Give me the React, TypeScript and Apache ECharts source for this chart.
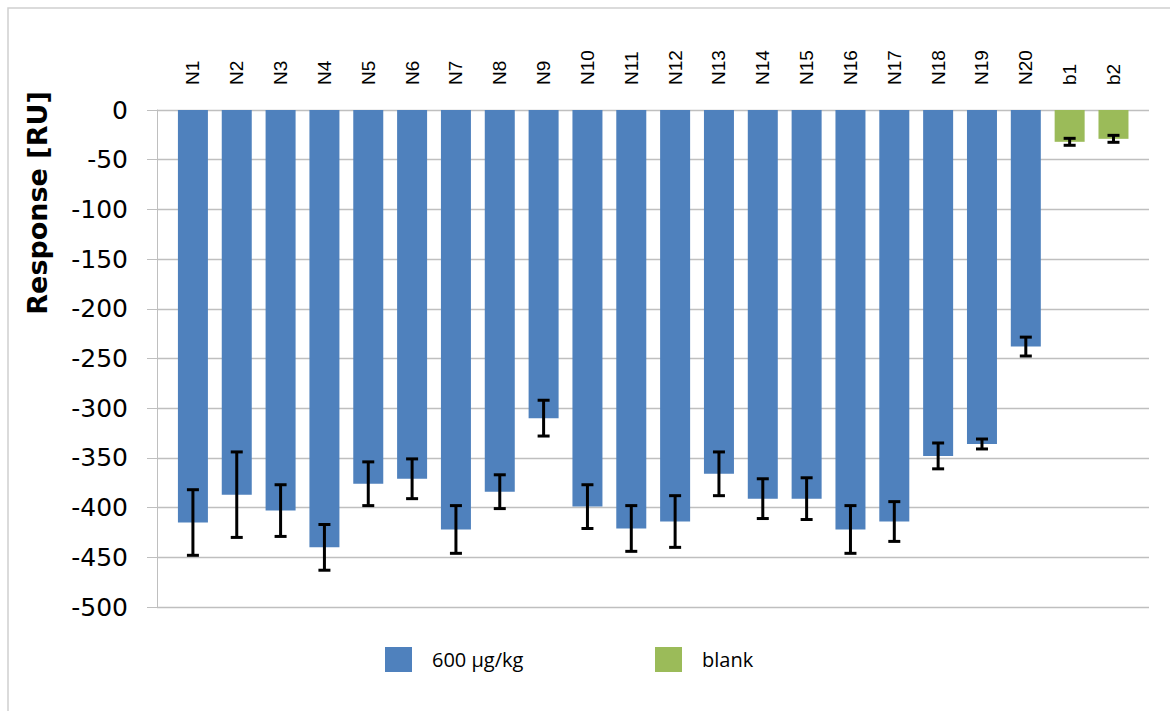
import React, { useEffect, useRef } from 'react';
import * as echarts from 'echarts';

const categories = ['N1', 'N2', 'N3', 'N4', 'N5', 'N6', 'N7', 'N8', 'N9', 'N10', 'N11', 'N12', 'N13', 'N14', 'N15', 'N16', 'N17', 'N18', 'N19', 'N20', 'b1', 'b2'];
const sampleValues = [-415, -387, -403, -440, -376, -371, -422, -384, -310, -399, -421, -414, -366, -391, -391, -422, -414, -348, -336, -238];
const sampleErrors = [33, 43, 26, 23, 22, 20, 24, 17, 18, 22, 23, 26, 22, 20, 21, 24, 20, 13, 5, 9.5];
const blankValues = [-32, -29];
const blankErrors = [3.5, 3.5];
const sampleName = '600 µg/kg';
const blankName = 'blank';
const yMin = -500;
const yMax = 0;
const yStep = 50;

export default function App() {
  const ref = useRef<HTMLDivElement>(null);
  useEffect(() => {
    const chart = echarts.init(ref.current!, undefined, { renderer: 'svg' });
    const n = sampleValues.length;
    const blueData = categories.map((_, i) => (i < n ? sampleValues[i] : '-'));
    const greenData = categories.map((_, i) => (i >= n ? blankValues[i - n] : '-'));
    const errData = categories.map((_, i) => {
      const v = i < n ? sampleValues[i] : blankValues[i - n];
      const e = i < n ? sampleErrors[i] : blankErrors[i - n];
      return [i, v - e, v + e];
    });
    const gray = '#BFBFBF';
    const legendCommon = {
      top: 647,
      padding: 0,
      itemWidth: 27,
      itemHeight: 25,
      icon: 'rect',
      textStyle: { fontSize: 20, fontFamily: 'Open Sans', color: '#000', padding: [0, 0, 0, 15] },
    };
    chart.setOption({
      animation: false,
      grid: [
        { left: 157, right: 21, top: 110, bottom: 104, outerBounds: { left: 0, top: 0, right: 0, bottom: 0 } },
        { left: 171, right: 34.6, top: 110, bottom: 104, outerBounds: { left: 0, top: 0, right: 0, bottom: 0 } },
      ],
      xAxis: [
        { gridIndex: 0, type: 'category', data: categories, show: false },
        {
          gridIndex: 1,
          type: 'category',
          position: 'top',
          data: categories,
          axisLine: { show: false },
          axisTick: { show: false },
          axisLabel: {
            rotate: 90,
            margin: 25,
            color: '#000',
            interval: 0,
            hideOverlap: false,
            fontSize: 19,
            fontFamily: 'Liberation Sans',
          },
        },
      ],
      yAxis: [
        {
          gridIndex: 0,
          type: 'value',
          min: yMin,
          max: yMax,
          interval: yStep,
          axisLine: { show: true, lineStyle: { color: gray, width: 1 } },
          axisTick: { show: true, length: 10, lineStyle: { color: gray } },
          axisLabel: { fontSize: 25, margin: 29, color: '#000', fontFamily: 'DejaVu Sans' },
          splitLine: { show: true, lineStyle: { color: gray, width: 1.3 } },
        },
        { gridIndex: 1, type: 'value', min: yMin, max: yMax, interval: yStep, show: false, splitLine: { show: false } },
      ],
      legend: [
        { ...legendCommon, data: [sampleName], left: 385 },
        { ...legendCommon, data: [blankName], left: 655 },
      ],
      graphic: [
        {
          type: 'rect',
          silent: true,
          z: -10,
          shape: { x: 8, y: 8, width: 1200, height: 800 },
          style: { fill: 'none', stroke: '#D0D0D0', lineWidth: 1.5 },
        },
        {
          type: 'text',
          x: 37,
          y: 203,
          rotation: Math.PI / 2,
          style: {
            text: 'Response [RU]',
            font: 'bold 27px "DejaVu Sans"',
            fill: '#000',
            align: 'center',
            verticalAlign: 'middle',
          },
        },
      ],
      series: [
        {
          name: sampleName,
          type: 'bar',
          xAxisIndex: 1,
          yAxisIndex: 1,
          data: blueData,
          barWidth: 30,
          barGap: '-100%',
          itemStyle: { color: '#4F81BD' },
        },
        {
          name: blankName,
          type: 'bar',
          xAxisIndex: 1,
          yAxisIndex: 1,
          data: greenData,
          barWidth: 30,
          barGap: '-100%',
          itemStyle: { color: '#9BBB59' },
        },
        {
          name: 'error',
          type: 'custom',
          xAxisIndex: 1,
          yAxisIndex: 1,
          data: errData,
          encode: { x: 0, y: [1, 2] },
          z: 10,
          renderItem: (params: any, api: any) => {
            const x = api.value(0);
            const lo = api.coord([x, api.value(1)]);
            const hi = api.coord([x, api.value(2)]);
            const hw = 6;
            const st = { stroke: '#000', lineWidth: 3 };
            return {
              type: 'group',
              children: [
                { type: 'line', shape: { x1: lo[0], y1: lo[1], x2: hi[0], y2: hi[1] }, style: st },
                { type: 'line', shape: { x1: lo[0] - hw, y1: lo[1], x2: lo[0] + hw, y2: lo[1] }, style: st },
                { type: 'line', shape: { x1: hi[0] - hw, y1: hi[1], x2: hi[0] + hw, y2: hi[1] }, style: st },
              ],
            };
          },
        },
      ],
    });
    return () => chart.dispose();
  }, []);
  return <div ref={ref} style={{ position: 'absolute', left: 0, top: 0, width: 1170, height: 711, background: '#fff' }} />;
}
